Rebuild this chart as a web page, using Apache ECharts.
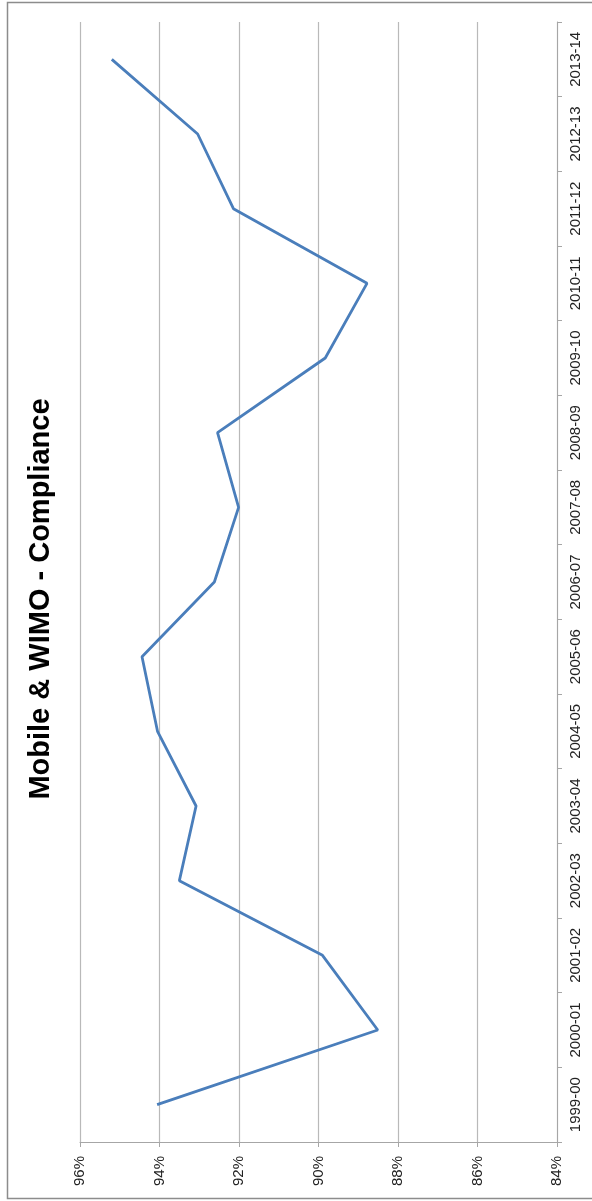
<!DOCTYPE html>
<html>
<head>
<meta charset="utf-8">
<script src="https://cdn.jsdelivr.net/npm/echarts@6/dist/echarts.min.js"></script>
<style>
  html, body { margin: 0; padding: 0; background: #fff; }
  #chart { width: 592px; height: 1201px; }
</style>
</head>
<body>
<div id="chart"></div>
<script>
// Financial years on the category axis (drawn bottom to top)
const years = ['1999-00', '2000-01', '2001-02', '2002-03', '2003-04', '2004-05', '2005-06',
  '2006-07', '2007-08', '2008-09', '2009-10', '2010-11', '2011-12', '2012-13', '2013-14'];

// Compliance rate, percent
const compliance = [94.06, 88.51, 89.90, 93.50, 93.08, 94.05, 94.44,
  92.62, 92.01, 92.54, 89.83, 88.78, 92.14, 93.04, 95.20];

// Value axis range and step, percent
const valueMin = 84;
const valueMax = 96;
const valueStep = 2;

const titleText = 'Mobile & WIMO - Compliance';

const chart = echarts.init(document.getElementById('chart'), null, { renderer: 'canvas' });

const labelFont = { fontFamily: 'Liberation Sans', fontSize: 15, color: '#222' };

chart.setOption({
  animation: false,
  backgroundColor: '#fff',
  grid: { left: 80, right: 35, top: 22, bottom: 59, containLabel: false },
  graphic: [
    {
      type: 'rect',
      shape: { x: 7.5, y: 2.5, width: 620, height: 1196 },
      style: { fill: null, stroke: '#8c8c8c', lineWidth: 1.5 },
      silent: true
    },
    {
      type: 'text',
      x: 41,
      y: 599,
      rotation: Math.PI / 2,
      style: {
        text: titleText,
        fontFamily: 'Liberation Sans',
        fontWeight: 'bold',
        fontSize: 29,
        fill: '#000',
        align: 'center',
        verticalAlign: 'middle'
      }
    }
  ],
  xAxis: {
    type: 'value',
    position: 'bottom',
    inverse: true,
    min: valueMin,
    max: valueMax,
    interval: valueStep,
    axisLine: { show: true, lineStyle: { color: '#a6a6a6', width: 1 } },
    axisTick: { show: true, length: 5, lineStyle: { color: '#a6a6a6' } },
    splitLine: { show: true, lineStyle: { color: '#b9b9b9', width: 1.2 } },
    axisLabel: Object.assign({
      rotate: 90,
      margin: 14,
      formatter: '{value}%'
    }, labelFont)
  },
  yAxis: {
    type: 'category',
    position: 'right',
    data: years,
    boundaryGap: true,
    axisLine: { show: true, lineStyle: { color: '#a6a6a6', width: 1 } },
    axisTick: { show: true, length: 5, lineStyle: { color: '#a6a6a6' } },
    splitLine: { show: false },
    axisLabel: Object.assign({
      rotate: 90,
      margin: 11,
      interval: 0
    }, labelFont)
  },
  series: [{
    type: 'line',
    data: compliance,
    showSymbol: false,
    symbol: 'none',
    lineStyle: { color: '#4a7ebb', width: 2.8 },
    itemStyle: { color: '#4a7ebb' }
  }]
});
</script>
</body>
</html>
